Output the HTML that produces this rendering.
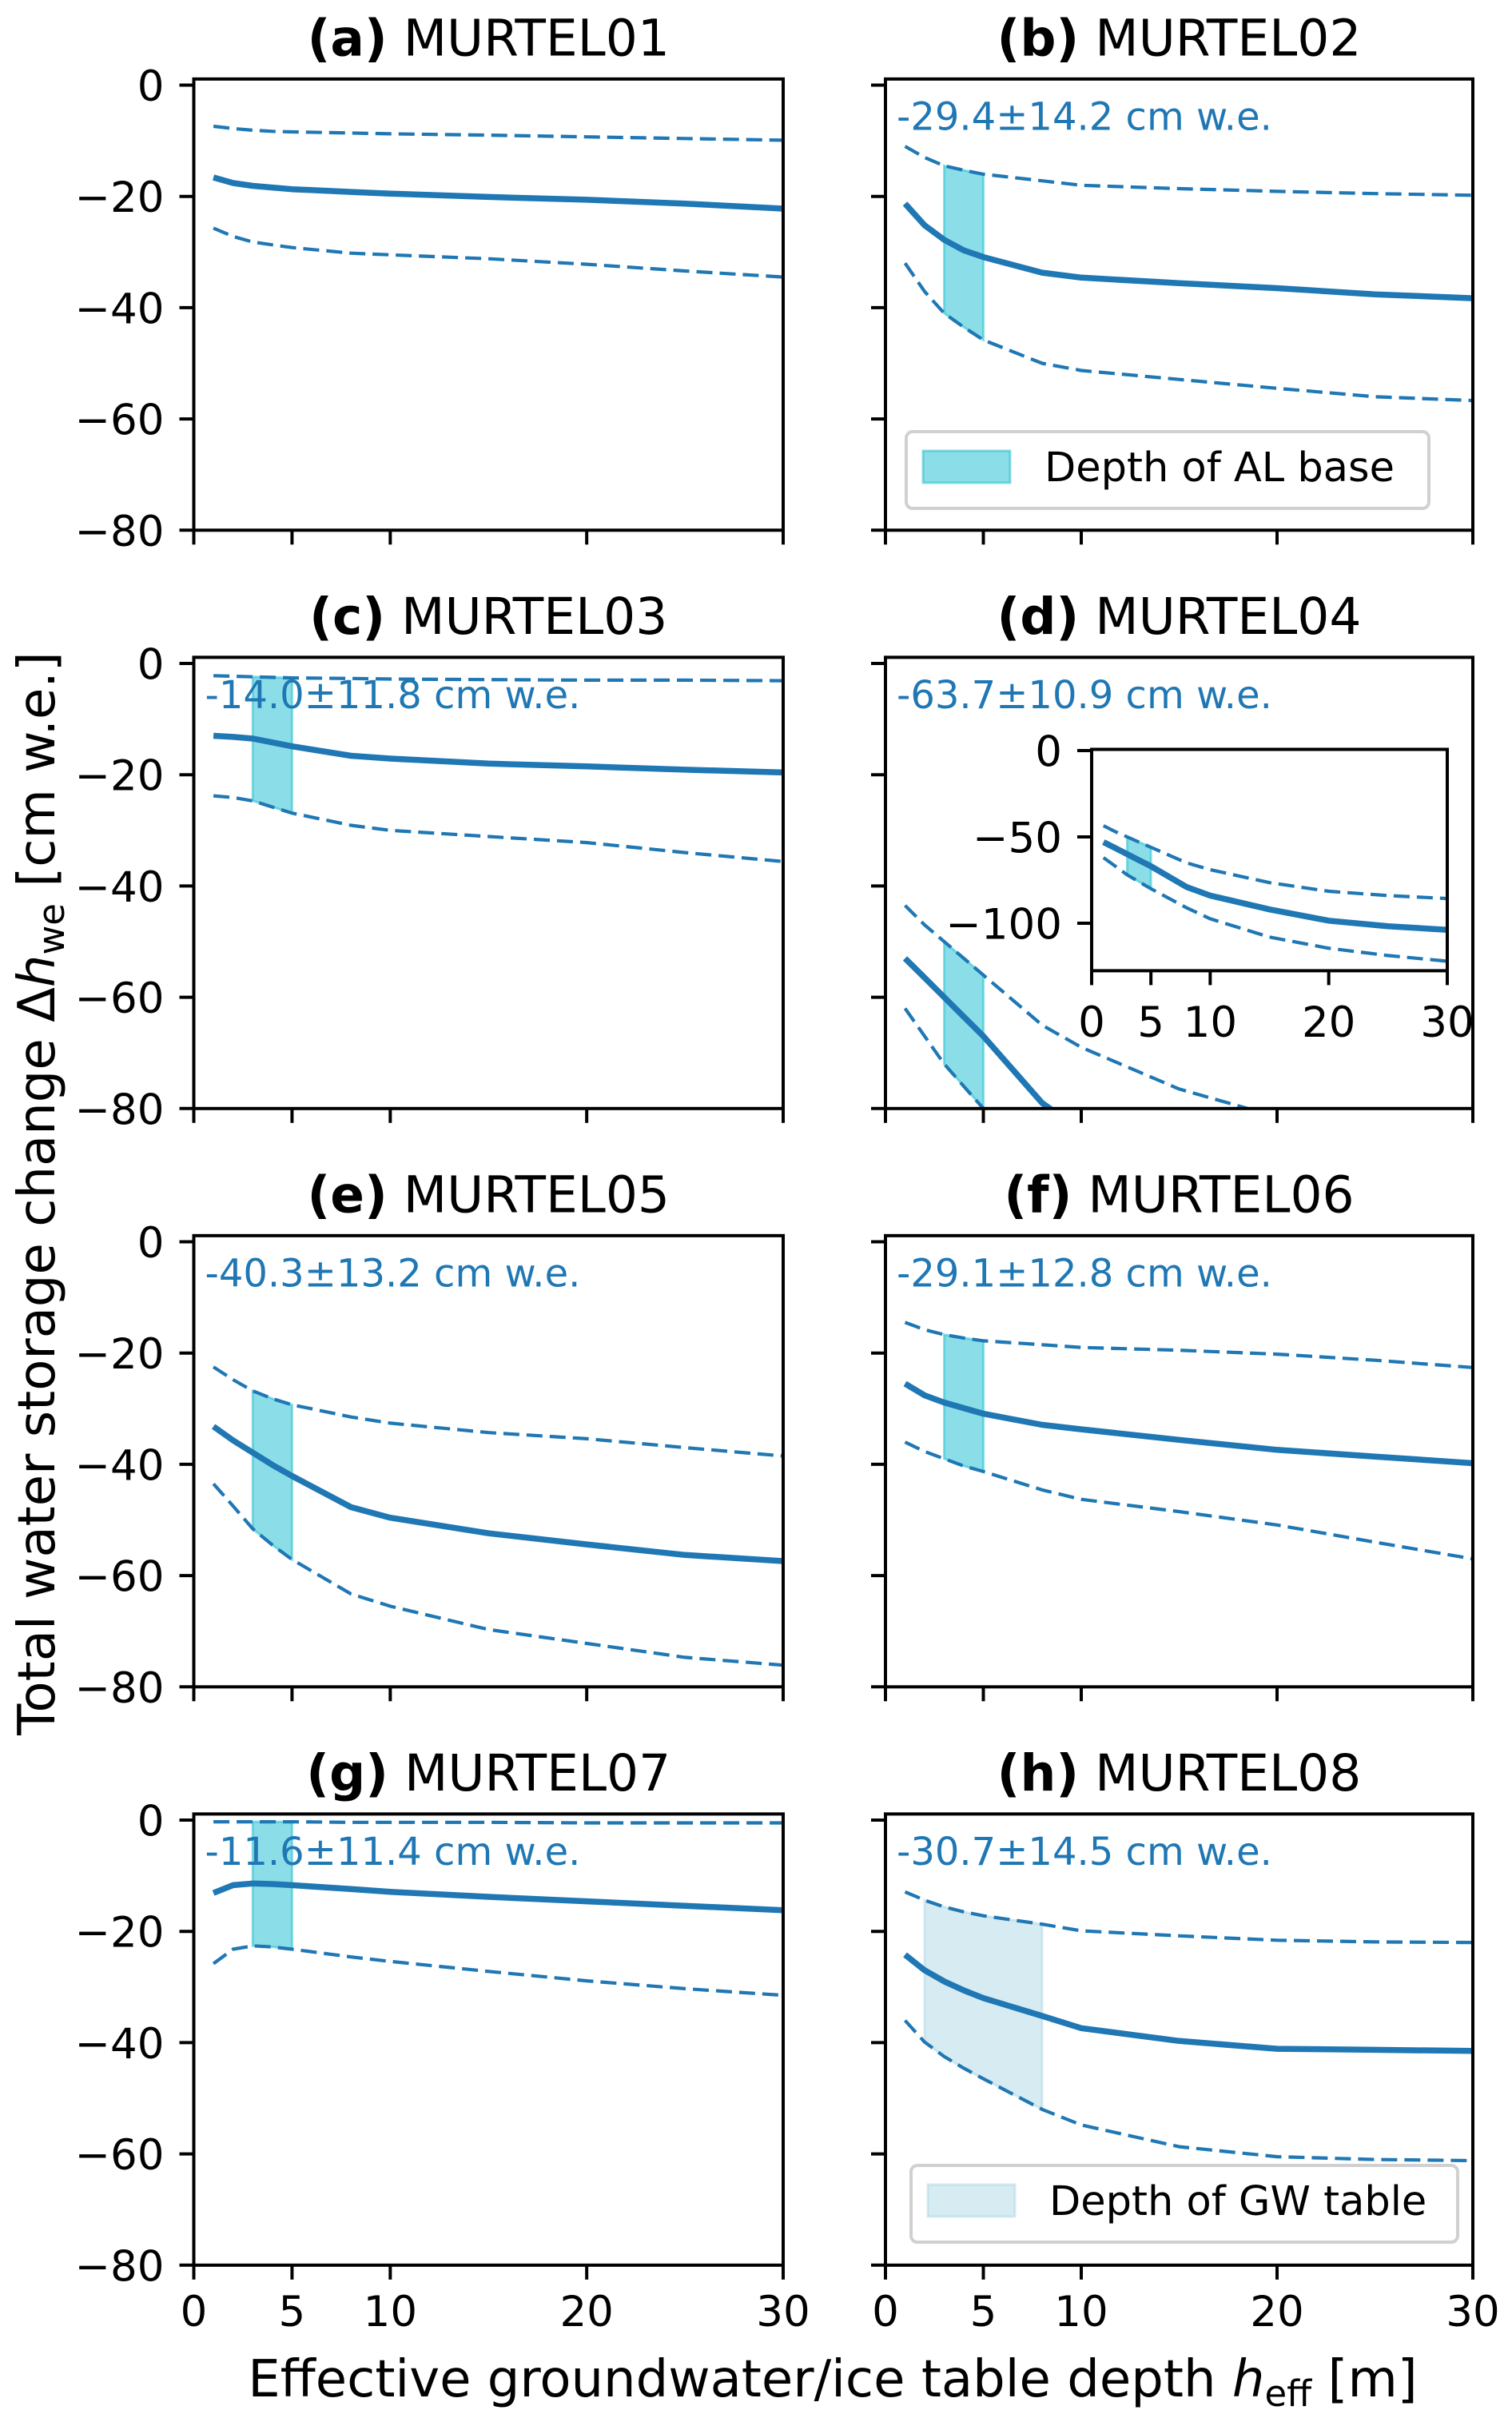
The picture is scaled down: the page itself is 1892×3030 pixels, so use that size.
<!DOCTYPE html>
<html><head><meta charset="utf-8">
<style>
html,body{margin:0;padding:0;background:#fff;}
svg{display:block;font-family:"DejaVu Sans","Liberation Sans",sans-serif;}
</style></head>
<body>
<svg id="fig" width="1892" height="3030" viewBox="0 0 1892 3030" xmlns="http://www.w3.org/2000/svg">
<rect width="1892" height="3030" fill="#fff"/>
<text transform="translate(68,1493) rotate(-90)" text-anchor="middle" font-size="64">Total water storage change Δ<tspan font-style="italic">h</tspan><tspan font-size="45" dy="12">we</tspan><tspan dy="-12"> [cm w.e.]</tspan></text>
<text x="1042" y="2998" text-anchor="middle" font-size="64">Effective groundwater/ice table depth <tspan font-style="italic">h</tspan><tspan font-size="45" dy="12">eff</tspan><tspan dy="-12"> [m]</tspan></text>
</svg>
<script>
const X = [1,2,3,4,5,8,10,15,20,25,30];
const names = ["a","b","c","d","e","f","g","h"];
const titles = ["MURTEL01","MURTEL02","MURTEL03","MURTEL04","MURTEL05","MURTEL06","MURTEL07","MURTEL08"];
const notes = ["","-29.4±14.2 cm w.e.","-14.0±11.8 cm w.e.","-63.7±10.9 cm w.e.","-40.3±13.2 cm w.e.","-29.1±12.8 cm w.e.","-11.6±11.4 cm w.e.","-30.7±14.5 cm w.e."];
const meanA = [-16.6,-17.6,-18.1,-18.4,-18.7,-19.2,-19.5,-20.1,-20.6,-21.3,-22.2];
const upA   = [-7.4,-7.8,-8.1,-8.3,-8.4,-8.6,-8.75,-9.0,-9.3,-9.6,-9.9];
const loA   = [-25.7,-27.2,-28.2,-28.7,-29.2,-30.2,-30.5,-31.2,-32.2,-33.4,-34.5];
const meanB = [-21.3,-25.2,-27.8,-29.7,-30.9,-33.7,-34.6,-35.6,-36.5,-37.6,-38.3];
const upB   = [-11,-13,-14.5,-15.3,-16,-17.2,-18,-18.6,-19.1,-19.5,-19.8];
const loB   = [-32,-37.1,-41,-43.5,-45.8,-50,-51.3,-52.9,-54.5,-56,-56.7];
const meanC = [-13.0,-13.2,-13.5,-14.2,-14.9,-16.6,-17.1,-18,-18.5,-19.1,-19.6];
const upC   = [-2.2,-2.3,-2.4,-2.5,-2.6,-2.7,-2.8,-2.9,-3.0,-3.0,-3.1];
const loC   = [-23.8,-24.1,-24.7,-25.8,-26.9,-29.1,-30,-31.1,-32.2,-34,-35.6];
const meanD = [-53,-56.5,-60,-63.5,-67,-79,-84,-92,-98.5,-101.7,-103.8];
const upD   = [-43.5,-47,-50,-53,-56,-65,-69,-76.5,-81.5,-84,-85.7];
const loD   = [-62,-67,-72,-76,-80,-91,-97.4,-108,-114.5,-118.7,-122];
const meanE = [-33.2,-35.7,-37.9,-40.1,-42.1,-47.7,-49.6,-52.4,-54.4,-56.3,-57.4];
const upE   = [-22.5,-24.8,-26.8,-28.2,-29.3,-31.5,-32.6,-34.3,-35.4,-37,-38.5];
const loE   = [-43.5,-47.5,-51.6,-54.5,-57.1,-63.3,-65.5,-69.7,-72.2,-74.7,-76.1];
const meanF = [-25.5,-27.6,-28.9,-29.9,-30.9,-32.9,-33.7,-35.6,-37.4,-38.6,-39.8];
const upF   = [-14.5,-15.8,-16.7,-17.3,-17.8,-18.5,-19,-19.5,-20.2,-21.3,-22.6];
const loF   = [-36,-37.7,-39,-40.3,-41.3,-44.6,-46.3,-48.5,-50.9,-54,-57];
const meanG = [-13.1,-11.7,-11.4,-11.5,-11.7,-12.4,-12.9,-13.8,-14.6,-15.4,-16.2];
const upG   = [-0.3,-0.3,-0.3,-0.3,-0.3,-0.4,-0.4,-0.4,-0.5,-0.5,-0.5];
const loG   = [-25.8,-23.2,-22.6,-22.8,-23.2,-24.6,-25.4,-27.2,-28.9,-30.3,-31.5];
const meanH = [-24.2,-27,-29,-30.6,-32,-35.2,-37.4,-39.7,-41.1,-41.3,-41.5];
const upH   = [-12.9,-14.4,-15.6,-16.5,-17.2,-18.7,-19.9,-20.8,-21.6,-21.9,-22];
const loH   = [-36,-39.9,-42.5,-44.6,-46.5,-52,-54.8,-58.7,-60.5,-61,-61.2];
const bandLo = [null,3,3,3,3,3,3,2];
const bandHi = [null,5,5,5,5,5,5,8];
const yTicks = [0,-20,-40,-60,-80];
const xTicks = [0,5,10,20,30];
const insetYTicks = [0,-50,-100];
const means = [meanA,meanB,meanC,meanD,meanE,meanF,meanG,meanH];
const ups = [upA,upB,upC,upD,upE,upF,upG,upH];
const los = [loA,loB,loC,loD,loE,loF,loG,loH];

const NS = "http://www.w3.org/2000/svg";
const svg = document.getElementById("fig");
function el(tag, attrs, parent){
  const e = document.createElementNS(NS, tag);
  for (const k in attrs) e.setAttribute(k, attrs[k]);
  (parent||svg).appendChild(e);
  return e;
}
const BLUE = "#1f77b4";
const colX0 = [242.5, 1108];
const colW = [737.5, 735];
const rowY0 = 106.5, rowStep = 723.5, yScale = 6.96, yTop = 1.1, yBot = -80;

for (let p = 0; p < 8; p++) {
  const col = p % 2, row = Math.floor(p / 2);
  const x0 = colX0[col], w = colW[col], y0 = rowY0 + row * rowStep;
  const sx = v => x0 + v / 30 * w;
  const sy = v => y0 - v * yScale;
  const g = el("g", {});
  
  
  const cp = el("clipPath", {id: "clip" + p}, g);
  el("rect", {x: x0, y: sy(yTop), width: w, height: sy(yBot) - sy(yTop)}, cp);
  const plot = el("g", {"clip-path": "url(#clip" + p + ")"}, g);

  if (bandLo[p] !== null) {
    const idx = X.map((v,i)=>i).filter(i => X[i] >= bandLo[p] && X[i] <= bandHi[p]);
    let pts = idx.map(i => sx(X[i]) + "," + sy(ups[p][i]));
    pts = pts.concat(idx.slice().reverse().map(i => sx(X[i]) + "," + sy(los[p][i])));
    const gw = p === 7;
    const band = el("polygon", {points: pts.join(" "), fill: gw ? "#add8e6" : "#17becf", "fill-opacity": 0.5, stroke: gw ? "#add8e6" : "#17becf", "stroke-opacity": 0.5, "stroke-width": 3}, plot);
    
    
  }
  const line = (arr, dashed, nm) => {
    const d = arr.map((v,i) => (i ? "L" : "M") + sx(X[i]).toFixed(1) + "," + sy(v).toFixed(1)).join(" ");
    const e = el("path", {d: d, fill: "none", stroke: BLUE, "stroke-width": dashed ? 4.2 : 7.5, "stroke-dasharray": dashed ? "20,9" : "none", "stroke-linejoin": "round"}, plot);
    
    
  };
  line(ups[p], true, 'upper-bound-line');
  line(los[p], true, 'lower-bound-line');
  line(means[p], false, 'mean-line');

  const fr = el("rect", {x: x0, y: sy(yTop), width: w, height: sy(yBot) - sy(yTop), fill: "none", stroke: "#000", "stroke-width": 4}, g);
  
  

  yTicks.forEach(t => {
    el("line", {x1: x0 - 18, x2: x0, y1: sy(t), y2: sy(t), stroke: "#000", "stroke-width": 4}, g);
    if (col === 0) {
      const tl = el("text", {x: x0 - 37, y: sy(t) + 19.5, "text-anchor": "end", "font-size": 53}, g);
      tl.textContent = t < 0 ? "\u2212" + (-t) : String(t);
      
      
    }
  });
  xTicks.forEach(t => {
    el("line", {x1: sx(t), x2: sx(t), y1: sy(yBot), y2: sy(yBot) + 18, stroke: "#000", "stroke-width": 4}, g);
    if (row === 3) {
      const tl = el("text", {x: sx(t), y: 2910, "text-anchor": "middle", "font-size": 53}, g);
      tl.textContent = String(t);
      
      
    }
  });

  const tt = el("text", {x: x0 + w / 2, y: 69.5 + row * rowStep, "text-anchor": "middle", "font-size": 63}, g);
  tt.innerHTML = '<tspan font-weight="bold">(' + names[p] + ')</tspan> ' + titles[p];
  
  

  if (notes[p]) {
    const nt = el("text", {x: x0 + 14, y: y0 + 56, "font-size": 48, fill: BLUE}, g);
    nt.textContent = notes[p];
    
    
  }

  if (p === 1 || p === 7) {
    const gw = p === 7;
    const ly = p === 1 ? 540 : 2709;
    const lx = gw ? 1140 : 1134, lw = gw ? 684 : 654;
    const lg = el("g", {}, g);
    
    
    el("rect", {x: lx, y: ly, width: lw, height: 96, rx: 8, fill: "#fff", "fill-opacity": 0.8, stroke: "#d0d0d0", "stroke-width": 4}, lg);
    el("rect", {x: lx + 21, y: ly + 24, width: 109, height: 40, fill: gw ? "#add8e6" : "#17becf", "fill-opacity": 0.5, stroke: gw ? "#add8e6" : "#17becf", "stroke-opacity": 0.5, "stroke-width": 3}, lg);
    const lt = el("text", {x: lx + 173, y: ly + 62, "font-size": 51}, lg);
    lt.textContent = gw ? "Depth of GW table" : "Depth of AL base";
    
    
  }

  if (p === 3) {
    const ix0 = 1366, iw = 445, iy0 = 939, iys = 2.16, iTop = 0.7, iBot = -127.5;
    const isx = v => ix0 + v / 30 * iw;
    const isy = v => iy0 - v * iys;
    const ig = el("g", {}, g);
    
    
    el("rect", {x: ix0, y: isy(iTop), width: iw, height: isy(iBot) - isy(iTop), fill: "#fff"}, ig);
    const icp = el("clipPath", {id: "clipInset"}, ig);
    el("rect", {x: ix0, y: isy(iTop), width: iw, height: isy(iBot) - isy(iTop)}, icp);
    const ip = el("g", {"clip-path": "url(#clipInset)"}, ig);
    const idx = X.map((v,i)=>i).filter(i => X[i] >= bandLo[p] && X[i] <= bandHi[p]);
    let pts = idx.map(i => isx(X[i]) + "," + isy(upD[i]));
    pts = pts.concat(idx.slice().reverse().map(i => isx(X[i]) + "," + isy(loD[i])));
    el("polygon", {points: pts.join(" "), fill: "#17becf", "fill-opacity": 0.5, stroke: "#17becf", "stroke-opacity": 0.5, "stroke-width": 3}, ip);
    const il = (arr, dashed) => {
      const d = arr.map((v,i) => (i ? "L" : "M") + isx(X[i]).toFixed(1) + "," + isy(v).toFixed(1)).join(" ");
      el("path", {d: d, fill: "none", stroke: BLUE, "stroke-width": dashed ? 4.2 : 7.5, "stroke-dasharray": dashed ? "20,9" : "none"}, ip);
    };
    il(upD, true); il(loD, true); il(meanD, false);
    el("rect", {x: ix0, y: isy(iTop), width: iw, height: isy(iBot) - isy(iTop), fill: "none", stroke: "#000", "stroke-width": 4}, ig);
    insetYTicks.forEach(t => {
      el("line", {x1: ix0 - 18, x2: ix0, y1: isy(t), y2: isy(t), stroke: "#000", "stroke-width": 4}, ig);
      const tl = el("text", {x: ix0 - 37, y: isy(t) + 19.5, "text-anchor": "end", "font-size": 53}, ig);
      tl.textContent = t < 0 ? "\u2212" + (-t) : String(t);
      
      
    });
    xTicks.forEach(t => {
      el("line", {x1: isx(t), x2: isx(t), y1: isy(iBot), y2: isy(iBot) + 18, stroke: "#000", "stroke-width": 4}, ig);
      const tl = el("text", {x: isx(t), y: 1297, "text-anchor": "middle", "font-size": 53}, ig);
      tl.textContent = String(t);
      
      
    });
  }
}
</script>
</body></html>
